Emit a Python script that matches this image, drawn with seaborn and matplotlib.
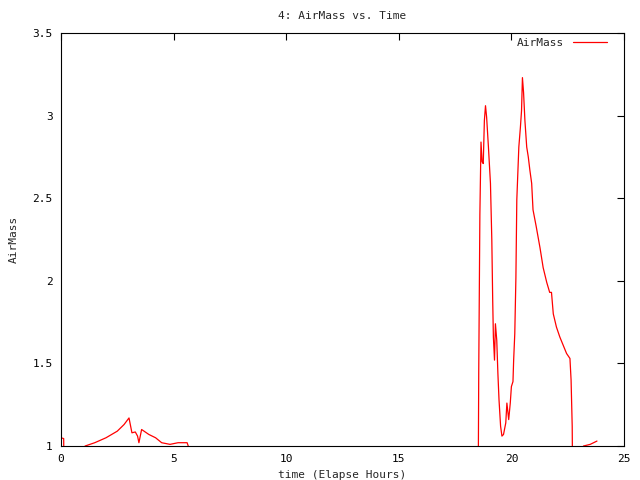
import seaborn as sns
import matplotlib.pyplot as plt
import pandas as pd

# elapsed hours and airmass (0 = below horizon, clipped)
hours = [0.0, 0.12, 0.17, 0.6, 1.07, 1.5, 2.0, 2.5, 2.8, 3.02, 3.15, 3.3, 3.4, 3.46,
         3.58, 3.9, 4.2, 4.47, 4.84, 5.2, 5.6, 5.65, 5.7,
         18.5, 18.55, 18.6, 18.65, 18.7, 18.75, 18.8, 18.85, 18.9, 18.98, 19.07,
         19.13, 19.17, 19.2, 19.25, 19.29, 19.35, 19.4, 19.45, 19.52, 19.58, 19.65,
         19.75, 19.8, 19.88, 19.95, 20.0, 20.07, 20.1, 20.15, 20.2, 20.24, 20.33,
         20.4, 20.45, 20.49, 20.54, 20.6, 20.68, 20.75, 20.82, 20.9, 20.96, 21.1,
         21.27, 21.41, 21.57, 21.7, 21.78, 21.86, 22.0, 22.15, 22.3, 22.45, 22.6,
         22.65, 22.7, 22.76, 23.15, 23.2, 23.5, 23.8]
airmass = [1.05, 1.045, 0.0, 0.0, 1.0, 1.02, 1.05, 1.09, 1.13, 1.17, 1.08, 1.085, 1.06, 1.02,
           1.10, 1.07, 1.05, 1.02, 1.01, 1.02, 1.02, 1.0, 0.0,
           0.0, 1.45, 2.4, 2.84, 2.72, 2.71, 2.97, 3.06, 2.99, 2.81, 2.59,
           2.25, 1.88, 1.66, 1.52, 1.74, 1.64, 1.44, 1.28, 1.12, 1.06, 1.07,
           1.14, 1.26, 1.16, 1.26, 1.36, 1.39, 1.52, 1.68, 2.02, 2.49, 2.81,
           2.93, 3.03, 3.23, 3.14, 2.97, 2.81, 2.75, 2.67, 2.59, 2.43, 2.33,
           2.20, 2.08, 1.99, 1.93, 1.93, 1.80, 1.72, 1.66, 1.61, 1.56, 1.53,
           1.40, 1.12, 0.0, 0.0, 1.0, 1.01, 1.03]

df = pd.DataFrame({"time": hours, "AirMass": airmass})

sns.set_style("white")
plt.rcParams['font.family'] = ['DejaVu Sans Mono']

fig = plt.figure(figsize=(6.4, 4.8), dpi=100)
ax = fig.add_axes([0.0953, 0.0708, 0.8797, 0.8604])

sns.lineplot(data=df, x="time", y="AirMass", color="#ff0000", linewidth=0.9,
             estimator=None, sort=False, label="AirMass", ax=ax)

ax.set_xlim(0, 25)
ax.set_ylim(1, 3.5)
ax.set_xticks([0, 5, 10, 15, 20, 25])
ax.set_yticks([1, 1.5, 2, 2.5, 3, 3.5])
ax.set_yticklabels(["1", "1.5", "2", "2.5", "3", "3.5"])
ax.tick_params(direction="in", length=5, width=0.8, top=True, right=True,
               labelsize=8, colors="black", pad=6)
for s in ax.spines.values():
    s.set_color("black")
    s.set_linewidth(0.8)

ax.set_title("4: AirMass vs. Time", fontsize=8, pad=10)
ax.set_xlabel("time (Elapse Hours)", fontsize=8, labelpad=4)
ax.set_ylabel("AirMass", fontsize=8, labelpad=10)

ax.legend(loc="upper right", frameon=False, markerfirst=False, fontsize=8,
          handlelength=3.0, borderaxespad=0.0, borderpad=0.2,
          bbox_to_anchor=(0.973, 0.993))

fig.savefig("out.png", dpi=100)
